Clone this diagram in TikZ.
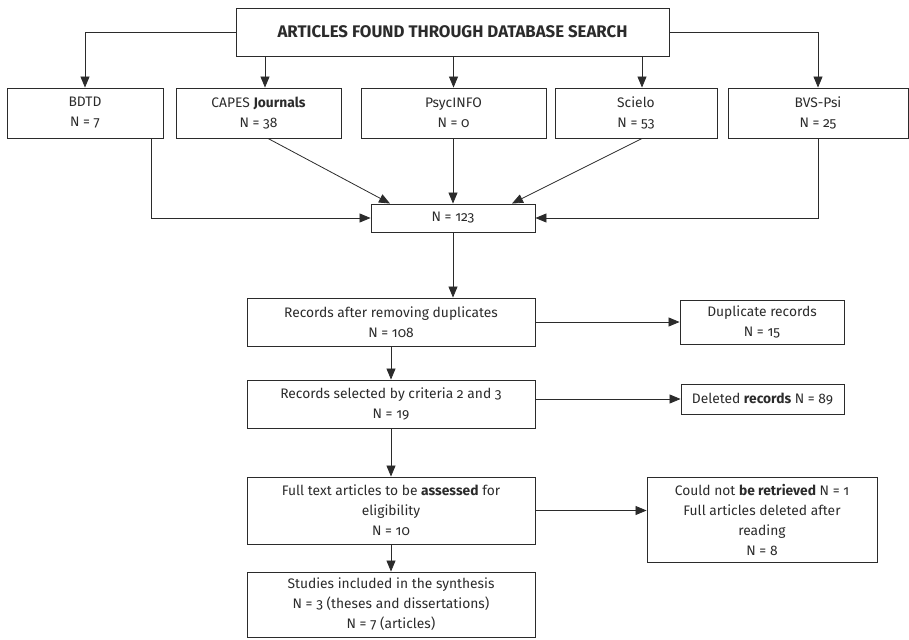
\documentclass[tikz,border=0pt]{standalone}
\usepackage{fontspec}
\setmainfont{Fira Sans}[Numbers=OldStyle]
\usetikzlibrary{arrows.meta}
\definecolor{ink}{HTML}{2B2B2B}
\tikzset{
  box/.style={draw=ink, line width=0.9pt, inner sep=0pt, align=center, text=ink,
    font=\fontsize{13.8}{20}\selectfont},
  arr/.style={draw=ink, line width=0.8pt, -{Triangle[length=11pt,width=9pt]}},
}
\begin{document}
\begin{tikzpicture}[x=1pt,y=-1pt]
\useasboundingbox (0,0) rectangle (909,639);
% nodes
\node[box, minimum width=433, minimum height=48, font=\fontsize{16.8}{20}\selectfont\bfseries] (T) at (452.5,32) {ARTICLES FOUND THROUGH DATABASE SEARCH};
\node[box, minimum width=156, minimum height=50] (bdtd) at (85,113) {BDTD\\N = 7};
\node[box, minimum width=165, minimum height=50] (capes) at (258.5,113) {CAPES \textbf{Journals}\\N = 38};
\node[box, minimum width=185, minimum height=50] (psyc) at (453.5,113) {PsycINFO\\N = 0};
\node[box, minimum width=162, minimum height=50] (scielo) at (636,113) {Scielo\\N = 53};
\node[box, minimum width=180, minimum height=50] (bvs) at (818,113) {BVS-Psi\\N = 25};
\node[box, minimum width=164, minimum height=28] (n) at (453,218) {N = 123};
\node[box, minimum width=288, minimum height=48] (rec) at (391,322) {Records after removing duplicates\\N = 108};
\node[box, minimum width=164, minimum height=44] (dup) at (762,322) {Duplicate records\\N = 15};
\node[box, minimum width=163, minimum height=30] (del) at (762.5,399) {Deleted \textbf{records} N = 89};
\node[box, minimum width=288, minimum height=48] (sel) at (391,404) {Records selected by criteria 2 and 3\\N = 19};
\node[box, minimum width=288, minimum height=67] (full) at (391,510.5) {Full text articles to be \textbf{assessed} for\\eligibility\\N = 10};
\node[box, minimum width=230, minimum height=85] (could) at (762,519.5) {Could not \textbf{be retrieved} N = 1\\Full articles deleted after\\reading\\N = 8};
\node[box, minimum width=288, minimum height=65] (stud) at (391,604.5) {Studies included in the synthesis\\N = 3 (theses and dissertations)\\N = 7 (articles)};
% helper coordinates
\coordinate (c1) at (265,0);
\coordinate (c2) at (642,0);
\coordinate (c3) at (151,0);
\coordinate (c4) at (268,0);
\coordinate (c5) at (390,0);
\coordinate (c7) at (512,0);
% top distribution
\draw[arr] (T.west) -| (bdtd.north);
\draw[arr] (T.east) -| (bvs.north);
\draw[arr] (T.south -| c1) -- (capes.north -| c1);
\draw[arr] (T.south -| psyc.north) -- (psyc.north);
\draw[arr] (T.south -| c2) -- (scielo.north -| c2);
% merge into N = 123
\draw[arr] (bdtd.south -| c3) |- (n.west);
\draw[arr] (capes.south -| c4) -- (n.north -| c5);
\draw[arr] (n.north |- psyc.south) -- (n.north);
\draw[arr] (scielo.south -| c2) -- (n.north -| c7);
\draw[arr] (bvs.south) |- (n.east);
% main flow
\draw[arr] (n.south) -- (n.south |- rec.north);
\draw[arr] (rec.east) -- (dup.west);
\draw[arr] (rec.south) -- (sel.north);
\draw[arr] (del.west -| sel.east) -- (del.west);
\draw[arr] (sel.south) -- (full.north);
\draw[arr] (full.east) -- (full.east -| could.west);
\draw[arr] (full.south) -- (stud.north);
\end{tikzpicture}
\end{document}
